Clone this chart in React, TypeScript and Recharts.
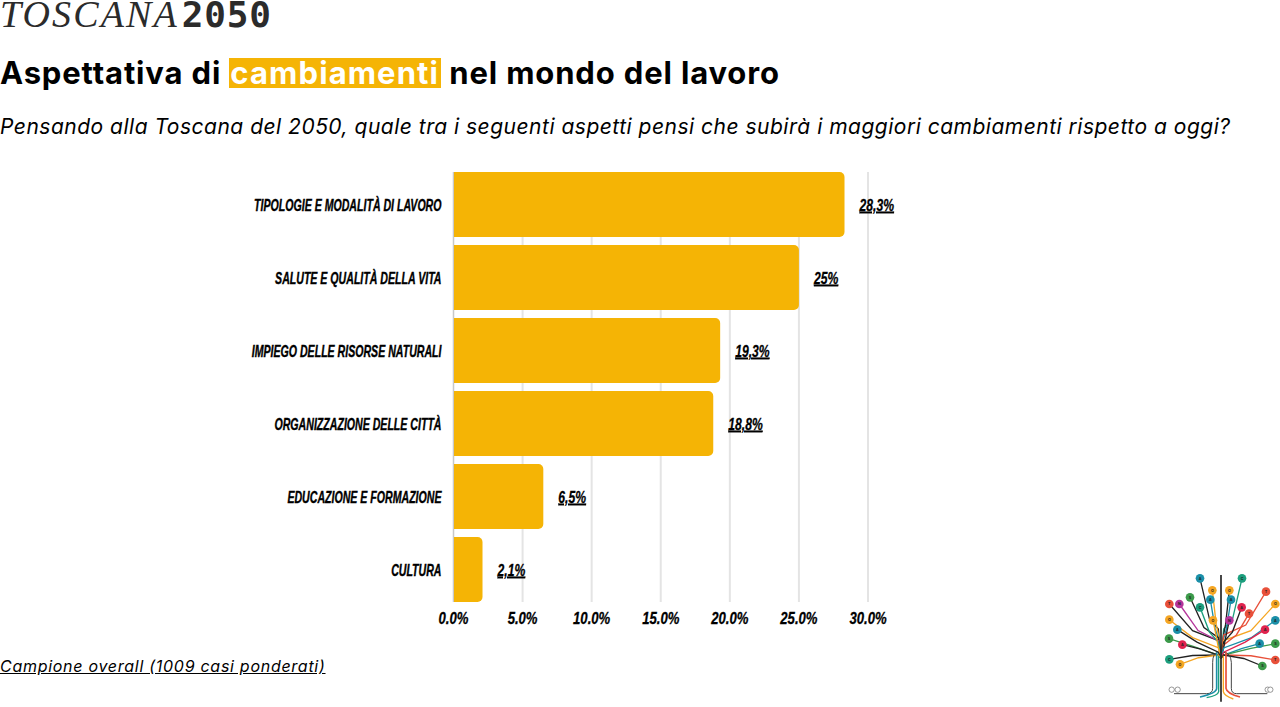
import { BarChart, Bar, XAxis, YAxis, CartesianGrid, LabelList } from "recharts";

const categories = [
  "TIPOLOGIE E MODALITÀ DI LAVORO",
  "SALUTE E QUALITÀ DELLA VITA",
  "IMPIEGO DELLE RISORSE NATURALI",
  "ORGANIZZAZIONE DELLE CITTÀ",
  "EDUCAZIONE E FORMAZIONE",
  "CULTURA",
];
const values = [28.3, 25, 19.3, 18.8, 6.5, 2.1];
const valueLabels = ["28,3%", "25%", "19,3%", "18,8%", "6,5%", "2,1%"];
const xTicks = [0, 5, 10, 15, 20, 25, 30];

const rows = categories.map((name, i) => ({ name, value: values[i], label: valueLabels[i] }));

const GOLD = "#f5b405";
// no condensed face installed, so the sans is squeezed with a transform in the ticks
const NARROW = '"Liberation Sans", sans-serif';

// logo nodes: x, y, letter, colour (in the logo's own viewBox)
const TEAL = "#1a8fa8";
const GREEN = "#3c9a4a";
const YELLOW = "#f5a623";
const RED = "#e8503a";
const CRIMSON = "#e0234e";
const MAGENTA = "#b5359b";
const SEA = "#1b9e7d";
const treeNodes: [number, number, string, string][] = [
  [150, 40, "A", TEAL], [276, 40, "C", SEA], [187, 76, "O", YELLOW], [238, 76, "O", YELLOW],
  [181, 104, "A", TEAL], [243, 104, "A", TEAL], [120, 97, "S", GREEN], [348, 80, "T", RED],
  [376, 117, "O", YELLOW], [58, 117, "T", RED], [88, 117, "N", MAGENTA], [150, 127, "C", SEA],
  [275, 127, "A", CRIMSON], [297, 146, "T", RED], [189, 166, "O", YELLOW], [238, 166, "N", MAGENTA],
  [58, 164, "O", YELLOW], [376, 166, "A", TEAL], [82, 194, "A", TEAL], [345, 194, "A", CRIMSON],
  [57, 221, "S", GREEN], [97, 239, "A", CRIMSON], [329, 236, "A", TEAL], [376, 236, "S", GREEN],
  [58, 283, "C", SEA], [90, 298, "O", YELLOW], [376, 285, "T", RED], [337, 303, "S", GREEN],
];

function TreeLogo() {
  return (
    <svg
      viewBox="0 0 390 426"
      width={130}
      height={142}
      style={{ position: "absolute", left: 1150, top: 565 }}
    >
      {treeNodes.map(([x, y, , c], i) => {
        const midY = y + (262 - y) * 0.55;
        const midX = x + (213 - x) * 0.45;
        const stroke = i % 3 === 0 ? "#222" : c;
        return (
          <path
            key={i}
            d={`M${x} ${y} L${midX} ${midY} L${x < 213 ? 205 : 221} ${Math.min(midY + 30, 270)} L213 280`}
            fill="none"
            stroke={stroke}
            strokeWidth={4}
          />
        );
      })}
      <path d="M213 30 L213 410" stroke="#222" strokeWidth={5} fill="none" />
      <path d="M205 262 Q188 264 188 292 L188 370 Q188 386 170 386 L72 386" stroke="#444" strokeWidth={3} fill="none" />
      <path d="M200 262 L200 370 Q200 385 150 396" stroke={TEAL} strokeWidth={5} fill="none" />
      <path d="M206 272 L206 380 Q204 392 170 398" stroke={SEA} strokeWidth={4} fill="none" />
      <path d="M222 262 Q242 264 244 292 L244 370 Q244 386 260 386 L352 386" stroke="#444" strokeWidth={3} fill="none" />
      <path d="M228 262 L228 370 Q230 385 270 396" stroke={RED} strokeWidth={5} fill="none" />
      <path d="M220 272 L220 380 Q222 392 250 402" stroke={YELLOW} strokeWidth={4} fill="none" />
      {treeNodes.map(([x, y, t, c], i) => (
        <g key={i}>
          <circle cx={x} cy={y} r={13} fill={c} />
          <text x={x} y={y + 4} textAnchor="middle" fontSize={11} fontWeight={700} fontFamily="Inter" fill="#222">
            {t}
          </text>
        </g>
      ))}
      {[65, 83, 353, 361].map((x) => (
        <circle key={x} cx={x} cy={374} r={8} fill="#fff" stroke="#666" strokeWidth={2} />
      ))}
    </svg>
  );
}

function CategoryTick({ x, y, payload }: any) {
  return (
    <text
      transform={`translate(${x + 5} ${y + 6}) scale(0.65 1)`}
      textAnchor="end"
      fontFamily={NARROW}
      fontWeight={700}
      fontStyle="italic"
      fontSize={16.3}
      stroke="#000"
      strokeWidth={0.4}
      fill="#000"
    >
      {payload.value}
    </text>
  );
}

function ValueTick({ x, y, payload }: any) {
  return (
    <text
      transform={`translate(${x} ${y + 14}) scale(0.82 1)`}
      textAnchor="middle"
      fontFamily={NARROW}
      fontWeight={700}
      fontStyle="italic"
      fontSize={16}
      stroke="#000"
      strokeWidth={0.3}
      fill="#000"
    >
      {payload.value.toFixed(1) + "%"}
    </text>
  );
}

function ValueLabel({ x, y, width, height, value }: any) {
  return (
    <text
      transform={`translate(${x + width + 15} ${y + height / 2 + 6}) scale(0.76 1)`}
      fontFamily={NARROW}
      fontWeight={700}
      fontStyle="italic"
      fontSize={16}
      stroke="#000"
      strokeWidth={0.3}
      fill="#000"
      textDecoration="underline"
    >
      {value}
    </text>
  );
}

export default function App() {
  return (
    <div style={{ position: "absolute", left: 0, top: 0, width: 1280, height: 707, background: "#fff", overflow: "hidden" }}>
      <div style={{ position: "absolute", left: 0, top: 0, whiteSpace: "nowrap", color: "#2b2b2b", lineHeight: "28px" }}>
        <span style={{ fontFamily: '"Liberation Serif"', fontStyle: "italic", fontSize: 38, letterSpacing: 2.1 }}>TOSCANA</span>
        <span style={{ fontFamily: '"DejaVu Sans Mono"', fontWeight: 700, fontSize: 36, letterSpacing: 0.8, marginLeft: 3 }}>2050</span>
      </div>
      <div
        style={{
          position: "absolute",
          left: 0,
          top: 54,
          whiteSpace: "nowrap",
          fontFamily: "Inter",
          fontWeight: 700,
          fontSize: 31,
          letterSpacing: 0.85,
          lineHeight: "38px",
          color: "#000",
        }}
      >
        Aspettativa di{" "}
        <span style={{ display: "inline-block", lineHeight: "30px", background: GOLD, color: "#fff", padding: "0 2px 0 1px", letterSpacing: 1.1 }}>cambiamenti</span> nel mondo del lavoro
      </div>
      <div
        style={{
          position: "absolute",
          left: 0,
          top: 112,
          whiteSpace: "nowrap",
          fontFamily: "Inter",
          fontStyle: "italic",
          fontSize: 21,
          letterSpacing: 0.5,
          lineHeight: "30px",
          color: "#000",
        }}
      >
        Pensando alla Toscana del 2050, quale tra i seguenti aspetti pensi che subirà i maggiori cambiamenti rispetto a oggi?
      </div>

      <div style={{ position: "absolute", left: 0, top: 0 }}>
        <BarChart
          width={1280}
          height={707}
          data={rows}
          layout="vertical"
          margin={{ top: 172, bottom: 85, left: 0.5, right: 412 }}
        >
          <CartesianGrid horizontal={false} stroke="#e4e4e4" strokeWidth={2} />
          <XAxis
            type="number"
            domain={[0, 30]}
            ticks={xTicks}
            axisLine={false}
            tickLine={false}
            height={20}
            tick={<ValueTick />}
            interval={0}
          />
          <YAxis
            type="category"
            dataKey="name"
            width={453}
            axisLine={{ stroke: "#c8c8c8", strokeWidth: 1 }}
            tickLine={false}
            tick={<CategoryTick />}
            tickMargin={11}
            padding={{ top: -4, bottom: -4 }}
            interval={0}
          />
          <Bar dataKey="value" fill={GOLD} barSize={65} radius={[0, 5, 5, 0]} isAnimationActive={false}>
            <LabelList dataKey="label" content={<ValueLabel />} />
          </Bar>
        </BarChart>
      </div>

      <div
        style={{
          position: "absolute",
          left: 0,
          top: 655,
          whiteSpace: "nowrap",
          fontFamily: "Inter",
          fontStyle: "italic",
          fontSize: 16,
          letterSpacing: 0.72,
          lineHeight: "22px",
          textDecoration: "underline",
          color: "#000",
        }}
      >
        Campione overall (1009 casi ponderati)
      </div>
      <TreeLogo />
    </div>
  );
}
